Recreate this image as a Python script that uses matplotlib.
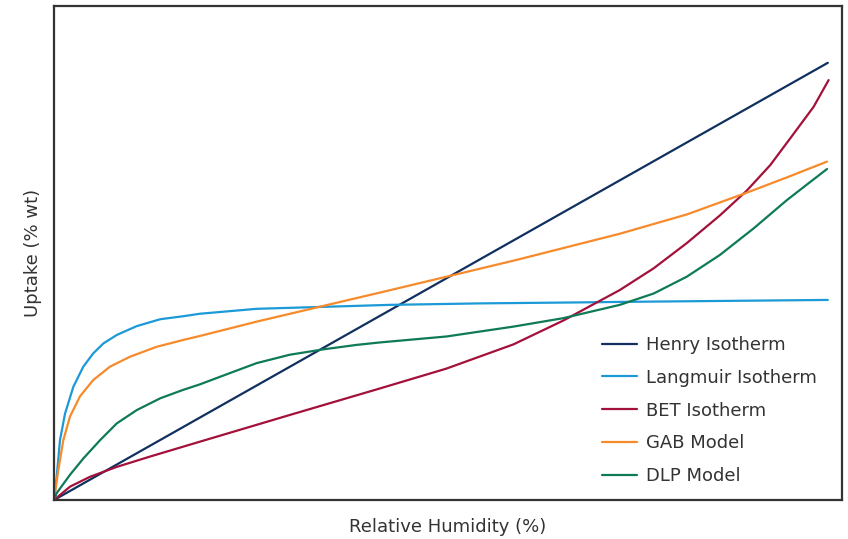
import matplotlib
matplotlib.use('Agg')
import matplotlib.pyplot as plt

# relative humidity (%) and uptake (% wt)
henry_rh = [0, 98.2]
henry_up = [0, 88.5]

lang_rh = [0, 0.34, 0.76, 1.40, 2.45, 3.72, 4.99, 6.27, 7.96, 10.5, 13.5, 16.4, 18.5,
           25.7, 34.2, 42.6, 54.1, 66.8, 71.8, 98.2]
lang_up = [0, 4.7, 12.1, 17.5, 22.9, 27.0, 29.7, 31.7, 33.4, 35.2, 36.6, 37.2, 37.7,
           38.7, 39.1, 39.5, 39.8, 40.0, 40.1, 40.5]

bet_rh = [0, 2.03, 4.57, 7.96, 12.2, 18.5, 29.9, 41.4, 49.8, 58.3, 64.6, 71.8,
          76.1, 80.3, 84.5, 87.9, 90.9, 93.8, 96.4, 98.3]
bet_up = [0, 2.7, 4.7, 6.7, 8.8, 11.8, 17.2, 22.6, 26.6, 31.5, 36.3, 42.5,
          46.9, 52.0, 57.6, 62.6, 67.8, 74.0, 79.6, 85.0]

gab_rh = [0, 0.55, 1.18, 2.03, 3.30, 4.99, 7.11, 9.64, 13.0, 16.4, 18.5, 25.7, 34.2,
          41.4, 49.8, 58.7, 71.8, 80.3, 87.9, 93.0, 98.1]
gab_up = [0, 6.1, 12.1, 16.9, 21.0, 24.3, 27.0, 29.0, 31.0, 32.4, 33.2, 36.1, 39.3,
          42.0, 45.2, 48.6, 53.9, 57.8, 62.2, 65.3, 68.5]

dlp_rh = [0, 0.34, 2.03, 3.72, 5.84, 7.96, 10.5, 13.5, 16.4, 18.5, 21.5, 25.7, 29.9,
          34.2, 38.4, 41.4, 49.8, 58.3, 64.6, 71.8, 76.1, 80.3, 84.5, 88.8, 93.0, 95.5, 98.1]
dlp_up = [0, 1.4, 5.1, 8.4, 12.1, 15.5, 18.2, 20.6, 22.3, 23.4, 25.2, 27.7, 29.4,
          30.5, 31.4, 31.9, 33.1, 35.1, 36.8, 39.5, 41.8, 45.2, 49.6, 55.0, 60.7, 63.8, 67.0]

series = [
    ('Henry Isotherm', henry_rh, henry_up, '#10305f'),
    ('Langmuir Isotherm', lang_rh, lang_up, '#1b9ad7'),
    ('BET Isotherm', bet_rh, bet_up, '#a3113a'),
    ('GAB Model', gab_rh, gab_up, '#f78a2b'),
    ('DLP Model', dlp_rh, dlp_up, '#0e7a58'),
]

plt.rcParams['font.family'] = ['DejaVu Sans']
text_col = '#333333'

fig = plt.figure(figsize=(8.48, 5.39), dpi=100)
ax = fig.add_axes([54 / 848, 39 / 539, 788 / 848, 494 / 539])

for name, x, y, c in series:
    ax.plot(x, y, color=c, lw=1.6, label=name,
            solid_joinstyle='round', solid_capstyle='round')

ax.set_xlim(0, 100)
ax.set_ylim(0, 100)
ax.set_xticks([])
ax.set_yticks([])
for s in ax.spines.values():
    s.set_color('#333333')
    s.set_linewidth(1.6)

ax.set_xlabel('Relative Humidity (%)', fontsize=13, color=text_col, labelpad=13)
ax.set_ylabel('Uptake (% wt)', fontsize=13, color=text_col, labelpad=9)

leg = ax.legend(loc='upper left', bbox_to_anchor=(602 / 848, 1 - 336 / 539),
                bbox_transform=fig.transFigure, frameon=False, fontsize=13,
                handlelength=1.95, handletextpad=0.5, labelspacing=0.82,
                borderpad=0, borderaxespad=0)
for t in leg.get_texts():
    t.set_color(text_col)

fig.savefig('out.png', dpi=100)
